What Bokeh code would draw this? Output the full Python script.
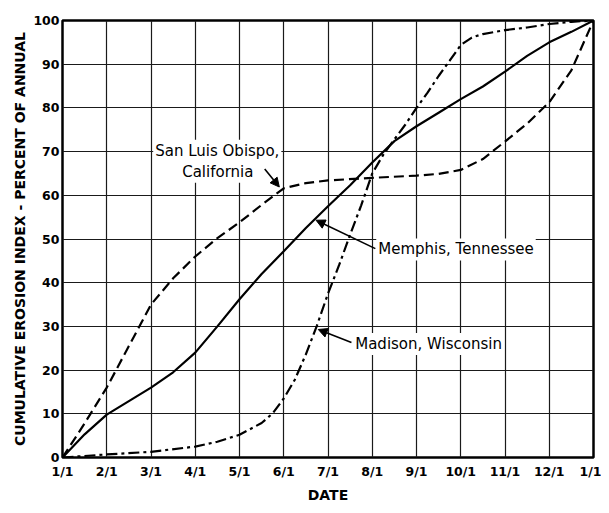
from bokeh.plotting import figure
from bokeh.models import Label, Arrow, NormalHead, Range1d, FixedTicker
from bokeh.embed import file_html
from bokeh.resources import INLINE

# Month index: 0 = 1/1, 1 = 2/1, ... 12 = 1/1 (next year)
x_ticks = list(range(13))
x_labels = ["1/1", "2/1", "3/1", "4/1", "5/1", "6/1", "7/1", "8/1", "9/1",
            "10/1", "11/1", "12/1", "1/1"]
y_ticks = list(range(0, 101, 10))

# San Luis Obispo, California (dashed)
slo_x = [0, 0.5, 1, 1.5, 2, 2.5, 3, 3.5, 4, 4.5, 5, 5.5, 6, 7, 8, 8.5, 9,
         9.5, 10, 10.5, 11, 11.5, 12]
slo_y = [0, 7.8, 16, 25.5, 35, 41, 46, 50.2, 53.8, 57.8, 61.6, 62.8, 63.4,
         64.0, 64.5, 64.9, 65.8, 68.3, 72.3, 76.4, 81.3, 88.6, 100]

# Memphis, Tennessee (solid)
mem_x = [0, 0.5, 1, 1.5, 2, 2.5, 3, 3.5, 4, 4.5, 5, 5.5, 6, 6.5, 7, 7.5, 8,
         8.5, 9, 9.5, 10, 10.5, 11, 11.5, 12]
mem_y = [0, 5.3, 9.8, 12.9, 16, 19.5, 24.0, 30.0, 36.2, 42, 47.2, 52.5, 57.5,
         62.3, 67.5, 72.4, 75.8, 78.9, 82, 84.9, 88.3, 91.9, 95, 97.4, 100]

# Madison, Wisconsin (dash-dot)
mad_x = [0, 1, 2, 3, 3.5, 4, 4.5, 4.75, 5, 5.25, 5.5, 5.75, 6, 6.25, 6.5,
         6.75, 7, 7.25, 7.5, 7.75, 8, 8.25, 8.5, 8.75, 9, 9.25, 9.5, 10,
         10.5, 11, 11.5, 12]
mad_y = [0, 0.7, 1.3, 2.5, 3.6, 5.2, 7.9, 10.1, 13.5, 17.8, 23.6, 30.2, 37.5,
         44, 51, 57.7, 65, 69.3, 72.8, 76.2, 80, 83.5, 87.3, 90.8, 94.4,
         96.1, 96.9, 97.8, 98.4, 99.2, 99.7, 100]

p = figure(width=601, height=505, output_backend="svg", toolbar_location=None,
           x_range=Range1d(0, 12), y_range=Range1d(0, 100),
           min_border_left=62, min_border_right=8, min_border_top=20,
           min_border_bottom=47)

p.xaxis.ticker = FixedTicker(ticks=x_ticks)
p.xaxis.major_label_overrides = {t: lab for t, lab in zip(x_ticks, x_labels)}
p.yaxis.ticker = FixedTicker(ticks=y_ticks)

for ax in (p.xaxis, p.yaxis):
    ax.axis_line_color = None
    ax.major_tick_line_color = None
    ax.minor_tick_line_color = None
    ax.major_tick_out = 0
    ax.major_tick_in = 0
    ax.minor_tick_out = 0
    ax.minor_tick_in = 0
    ax.major_label_text_font = "DejaVu Sans"
    ax.major_label_text_font_style = "bold"
    ax.major_label_text_font_size = "12.5px"
    ax.major_label_text_color = "black"
    ax.axis_label_text_font = "DejaVu Sans"
    ax.axis_label_text_font_style = "bold"
    ax.axis_label_text_font_size = "14px"
    ax.axis_label_text_color = "black"

p.xaxis.major_label_standoff = 6
p.yaxis.major_label_standoff = 3
p.xaxis.axis_label = "DATE"
p.xaxis.axis_label_standoff = 5
p.yaxis.axis_label = "CUMULATIVE EROSION INDEX - PERCENT OF ANNUAL"
p.yaxis.axis_label_standoff = 2

for g in (p.xgrid, p.ygrid):
    g.grid_line_color = "#1a1a1a"
    g.grid_line_width = 1.2

p.outline_line_color = "black"
p.outline_line_width = 2.5

p.line(slo_x, slo_y, line_color="black", line_width=2.2, line_dash="10 5")
p.line(mem_x, mem_y, line_color="black", line_width=2.2)
p.line(mad_x, mad_y, line_color="black", line_width=2.2, line_dash="11 4 3 4")

label_style = dict(text_font="DejaVu Sans", text_font_size="15px",
                   text_color="black", text_baseline="middle",
                   background_fill_color="white", padding=2)

p.add_layout(Label(x=2.05, y=70.2, text="San Luis Obispo,", **label_style))
p.add_layout(Label(x=2.66, y=65.4, text="California", **label_style))
p.add_layout(Label(x=7.09, y=47.6, text="Memphis, Tennessee", **label_style))
p.add_layout(Label(x=6.57, y=26.0, text="Madison, Wisconsin", **label_style))

def head():
    return NormalHead(size=9, fill_color="black", line_color="black")

p.add_layout(Arrow(end=head(), x_start=4.57, y_start=66.0, x_end=4.9,
                   y_end=61.9, line_width=1.6, line_color="black"))
p.add_layout(Arrow(end=head(), x_start=7.07, y_start=47.8, x_end=5.73,
                   y_end=54.3, line_width=1.6, line_color="black"))
p.add_layout(Arrow(end=head(), x_start=6.53, y_start=26.3, x_end=5.78,
                   y_end=29.3, line_width=1.6, line_color="black"))

open("out.html", "w").write(file_html(p, INLINE))
